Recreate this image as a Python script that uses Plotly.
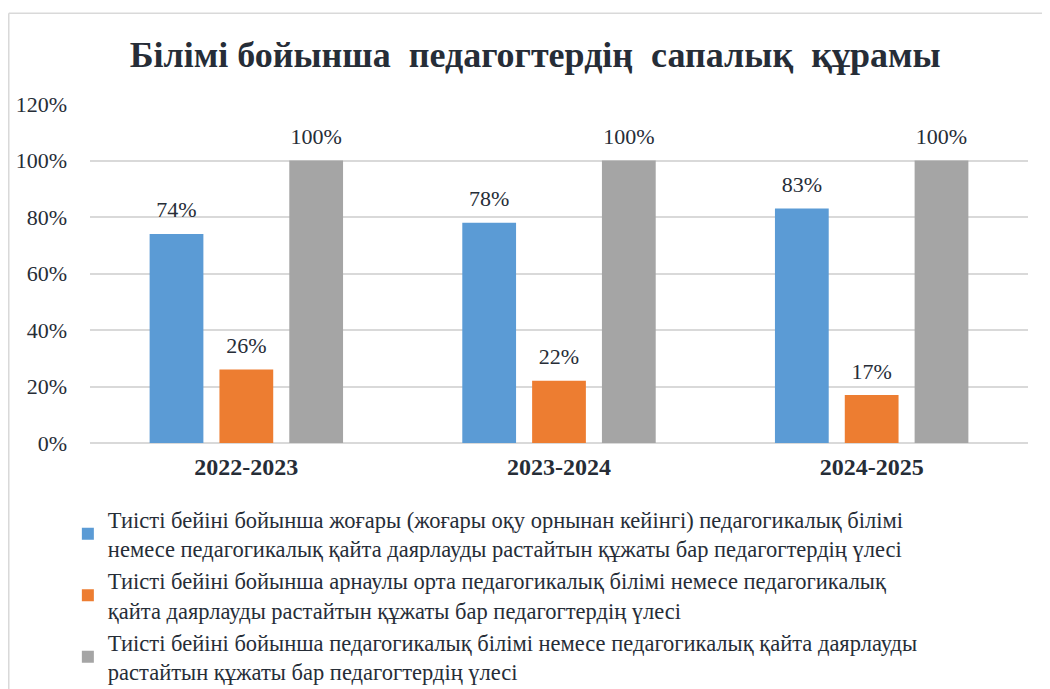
import plotly.graph_objects as go

categories = ["2022-2023", "2023-2024", "2024-2025"]
series_names = [
    "Тиісті бейіні бойынша жоғары (жоғары оқу орнынан кейінгі) педагогикалық білімі<br>немесе педагогикалық қайта даярлауды растайтын құжаты бар педагогтердің үлесі",
    "Тиісті бейіні бойынша арнаулы орта педагогикалық білімі немесе педагогикалық<br>қайта даярлауды растайтын құжаты бар педагогтердің үлесі",
    "Тиісті бейіні бойынша педагогикалық білімі немесе педагогикалық қайта даярлауды<br>растайтын құжаты бар педагогтердің үлесі",
]
higher_ed = [0.74, 0.78, 0.83]
secondary_ed = [0.26, 0.22, 0.17]
total_ped = [1.00, 1.00, 1.00]
tick_vals = [0, 0.2, 0.4, 0.6, 0.8, 1.0, 1.2]
tick_text = ["0%", "20%", "40%", "60%", "80%", "100%", "120%"]
title_text = "Білімі бойынша  педагогтердің  сапалық  құрамы"

colors = ["#5B9BD5", "#ED7D31", "#A5A5A5"]
FONT = "Liberation Serif"
TXT = "#262d37"
LABEL_PAD = 0.03  # gap (in axis units) between bar top and its value label

fig = go.Figure()
for i, (name, vals, col) in enumerate(zip(series_names, [higher_ed, secondary_ed, total_ped], colors)):
    grp = "g%d" % i
    fig.add_trace(go.Bar(
        x=categories, y=vals, name=name, offsetgroup=grp,
        marker=dict(color=col, line=dict(width=0)),
        hovertemplate="%{y:.0%}<extra></extra>",
    ))
    # transparent spacer bar sitting on top of each bar, carrying the value label
    fig.add_trace(go.Bar(
        x=categories, y=[LABEL_PAD] * len(vals), base=vals, offsetgroup=grp,
        marker=dict(color="rgba(0,0,0,0)", line=dict(width=0)),
        text=["%d%%" % round(v * 100) for v in vals], textposition="outside",
        textfont=dict(family=FONT, size=22, color=TXT),
        cliponaxis=False, showlegend=False, hoverinfo="skip",
    ))

fig.update_layout(
    width=1050, height=689,
    margin=dict(l=82, r=30, t=96, b=254, autoexpand=False),
    paper_bgcolor="white", plot_bgcolor="white",
    barmode="group", bargap=0.33, bargroupgap=0.23,
    title=dict(text="<b>" + title_text + "</b>", x=0.502, xanchor="center",
               y=0.932, yanchor="middle",
               font=dict(family=FONT, size=36, color=TXT)),
    font=dict(family=FONT, color=TXT),
    showlegend=True,
    legend=dict(orientation="v", x=-0.0236, xanchor="left", y=-0.162, yanchor="top",
                font=dict(family=FONT, size=22.5, color=TXT),
                itemwidth=30, tracegroupgap=0, traceorder="normal",
                bgcolor="rgba(0,0,0,0)"),
)
fig.update_yaxes(range=[0, 1.2], tickvals=tick_vals, ticktext=tick_text,
                 showgrid=True, gridcolor="#d9d9d9", gridwidth=1.5,
                 zeroline=True, zerolinecolor="#d9d9d9", zerolinewidth=1.5,
                 showline=False, ticks="", ticklabelstandoff=22,
                 tickfont=dict(family=FONT, size=22, color=TXT))
fig.update_xaxes(showline=False, ticks="", showgrid=False,
                 tickfont=dict(family=FONT, size=24, color=TXT),
                 tickprefix="<b>", ticksuffix="</b>", ticklabelstandoff=7)

# chart-area border (top and left edges visible in the crop)
fig.add_shape(type="line", xref="paper", yref="paper", x0=-0.0866, x1=1.1, y0=1.268, y1=1.268,
              line=dict(color="#d9d9d9", width=1.5))
fig.add_shape(type="line", xref="paper", yref="paper", x0=-0.0866, x1=-0.0866, y0=1.268, y1=-1.0,
              line=dict(color="#d9d9d9", width=1.5))

fig.write_html("out.html")
